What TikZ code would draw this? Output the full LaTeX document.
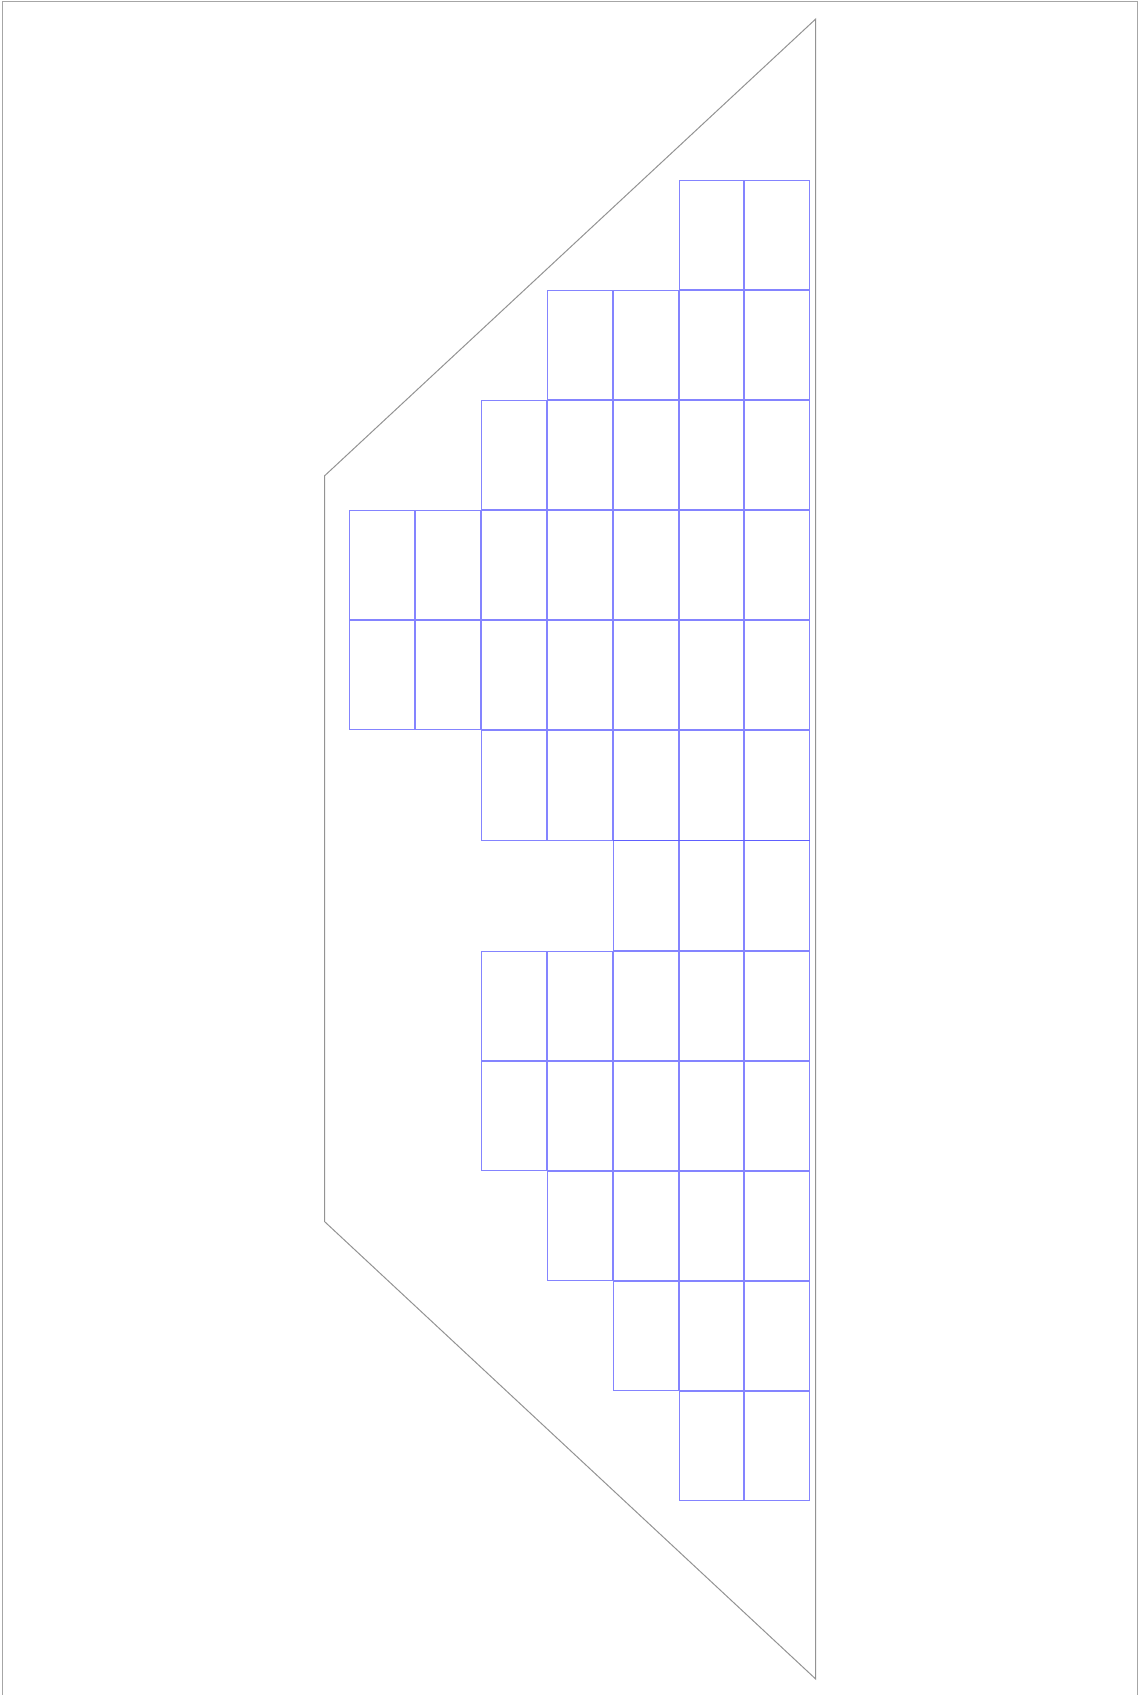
\documentclass[tikz,border=0pt]{standalone}

\definecolor{cellblue}{RGB}{80,80,255}
\tikzset{
  cell/.style={draw=cellblue,draw opacity=.7,line width=1pt},
  hull/.style={draw=gray!85,line width=1pt},
  frame/.style={draw=gray!70,line width=1pt},
}

\begin{document}
\begin{tikzpicture}[
  x=1pt,y=-1pt,
  ]
  \useasboundingbox (0,0) rectangle (1138,1695);

  % frame, open at the bottom
  \draw[frame] (2.5,1700) -- (2.5,1.5) -- (1137,1.5) -- (1137,1700);

  \draw[hull]
       (815.7,19) coordinate (apex) -- (324.7,475.7) coordinate (lt)
       -- (324.7,1221.7) coordinate (lb) -- (815.7,1679) coordinate (base) -- cycle;

  % rows of cells, each row runs from its first column to column 6
  \foreach \row/\first in {0/5,1/3,2/2,3/0,4/0,5/2,6/4,7/2,8/2,9/3,10/4,11/5}{
    \foreach \col in {\first,...,6}{
      \draw[cell] ({349.5+65.9*\col},{180.5+110.08*\row}) rectangle +(64.9,109.1);
    }
  }

\end{tikzpicture}
\end{document}
